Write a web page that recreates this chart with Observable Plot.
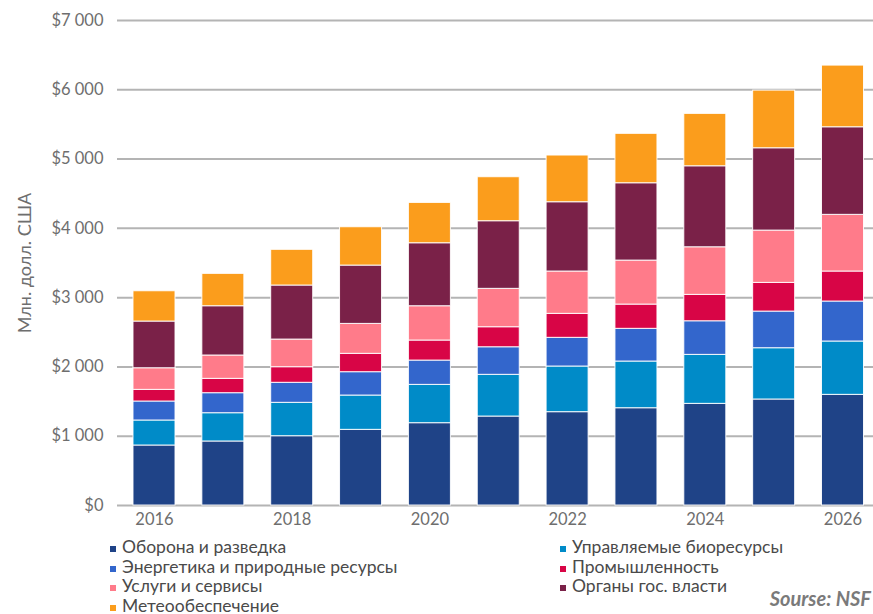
<!DOCTYPE html>
<html>
<head>
<meta charset="utf-8">
<script src="https://cdn.jsdelivr.net/npm/d3@7"></script>
<script src="https://cdn.jsdelivr.net/npm/@observablehq/plot@0.6"></script>
<style>
  html, body { margin: 0; padding: 0; background: #fff; overflow: hidden; }
  #wrap { position: relative; width: 873px; height: 614px; overflow: hidden; font-family: Lato, "Noto Sans", sans-serif; }
  #legend { position: absolute; left: 110px; top: 537px; display: grid; grid-template-columns: 450px 300px; row-gap: 0; font-size: 17.5px; color: #4a4a4a; line-height: 19.5px; }
  #legend .item { display: flex; align-items: center; white-space: nowrap; }
  #legend .sw { width: 6px; height: 6px; margin-right: 6px; margin-top: 5px; flex: none; }
  #source { position: absolute; right: 2px; top: 586px; font-size: 20px; font-weight: bold; font-style: italic; color: #7a7a7a; white-space: nowrap; }
</style>
</head>
<body>
<div id="wrap">
  <div id="chart"></div>
  <div id="legend"></div>
  <div id="source">Sourse: NSF</div>
</div>
<script>
const years = [2016, 2017, 2018, 2019, 2020, 2021, 2022, 2023, 2024, 2025, 2026];
const seriesNames = [
  "Оборона и разведка",
  "Управляемые биоресурсы",
  "Энергетика и природные ресурсы",
  "Промышленность",
  "Услуги и сервисы",
  "Органы гос. власти",
  "Метеообеспечение"
];
const seriesColors = ["#1f4387", "#008bc8", "#3366cc", "#d80546", "#ff7b8a", "#7a2148", "#fb9d1c"];
const defense    = [866, 924, 1000, 1092, 1188, 1284, 1347, 1404, 1467, 1530, 1597];
const bio        = [361, 408, 482, 495, 553, 602, 659, 674, 707, 740, 770];
const energy     = [274, 289, 289, 337, 351, 398, 414, 472, 485, 529, 577];
const industry   = [168, 207, 225, 265, 289, 289, 346, 350, 381, 414, 433];
const services   = [312, 337, 399, 432, 495, 554, 611, 635, 687, 755, 818];
const government = [674, 711, 780, 842, 909, 976, 1000, 1116, 1169, 1188, 1264];
const weather    = [437, 467, 515, 553, 582, 635, 674, 713, 756, 832, 890];
const yTicks = [0, 1000, 2000, 3000, 4000, 5000, 6000, 7000];
const yTitle = "Млн. долл. США";

const seriesValues = [defense, bio, energy, industry, services, government, weather];
const data = [];
seriesNames.forEach((name, i) => {
  years.forEach((yr, j) => data.push({year: yr, series: name, value: seriesValues[i][j]}));
});

const fmt = d => "$" + (d >= 1000 ? Math.floor(d / 1000) + " " + String(d % 1000).padStart(3, "0") : d);

const chart = Plot.plot({
  width: 873,
  height: 535,
  marginTop: 20,
  marginBottom: 30,
  marginLeft: 117,
  marginRight: 0,
  style: {fontFamily: "Lato, 'Noto Sans', sans-serif", fontSize: "16.5px", color: "#6e6e6e", background: "transparent", overflow: "visible"},
  x: {type: "band", domain: years, paddingInner: 0.39, paddingOuter: 0, round: false, insetLeft: 16, insetRight: 9.5, label: null},
  y: {domain: [0, 7000], label: null},
  color: {domain: seriesNames, range: seriesColors},
  marks: [
    Plot.ruleY(yTicks, {stroke: "#b4b4b4", strokeWidth: 2}),
    Plot.barY(data, {x: "year", y: "value", fill: "series", stroke: "#fff", strokeWidth: 1, strokeOpacity: 0.9}),
    Plot.axisY({ticks: yTicks, tickSize: 0, tickPadding: 14, tickFormat: fmt, label: null}),
    Plot.axisX({tickSize: 0, tickPadding: 8, tickFormat: d => d % 2 === 0 ? String(d) : "", label: null}),
    Plot.text([yTitle], {frameAnchor: "left", textAnchor: "middle", rotate: -90, dx: -92, fontSize: 18, fill: "#6e6e6e"})
  ]
});
document.getElementById("chart").appendChild(chart);

const legend = document.getElementById("legend");
seriesNames.forEach((name, i) => {
  const item = document.createElement("div");
  item.className = "item";
  const sw = document.createElement("span");
  sw.className = "sw";
  sw.style.background = seriesColors[i];
  const label = document.createElement("span");
  label.textContent = name;
  item.appendChild(sw);
  item.appendChild(label);
  legend.appendChild(item);
});
</script>
</body>
</html>
